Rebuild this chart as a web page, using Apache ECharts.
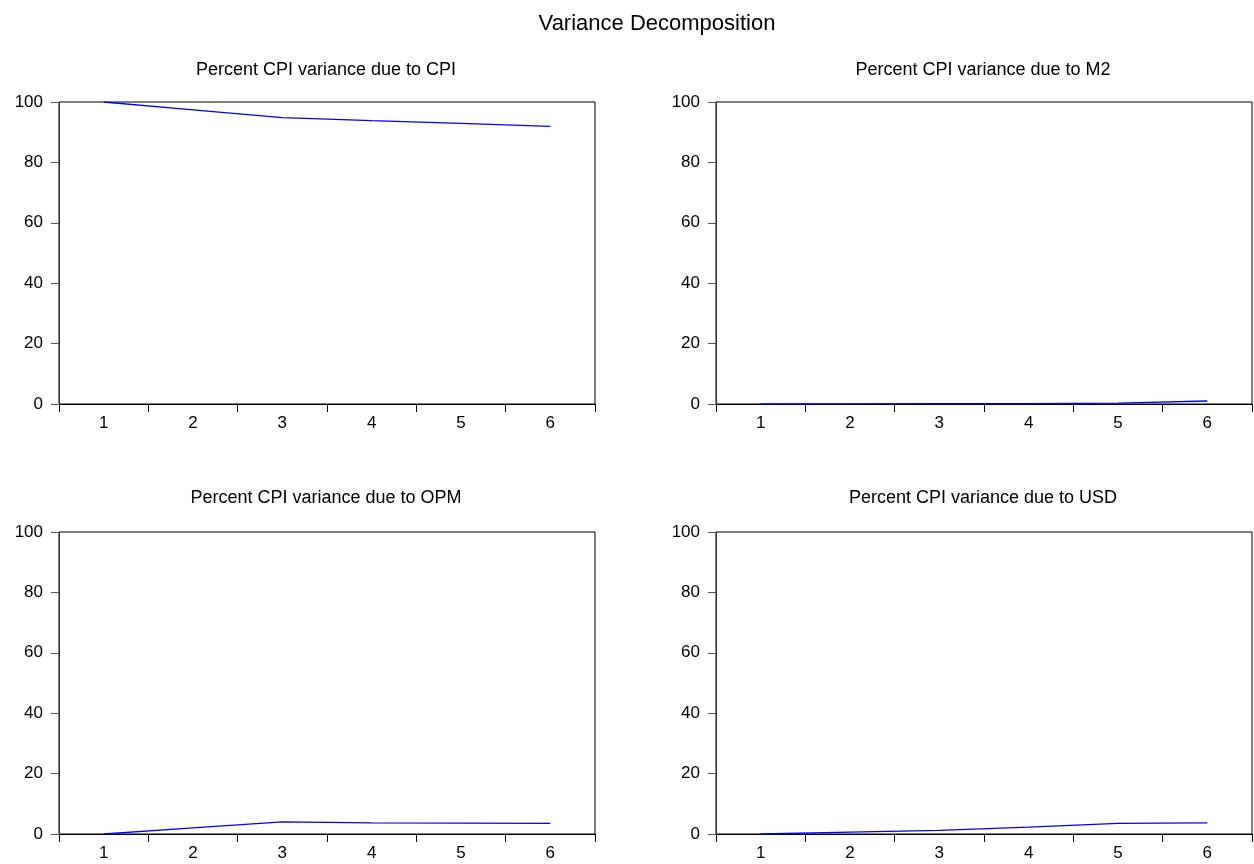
<!DOCTYPE html>
<html>
<head>
<meta charset="utf-8" />
<title>Variance Decomposition</title>
<script src="https://cdn.jsdelivr.net/npm/echarts@6/dist/echarts.min.js"></script>
<style>
  html, body { margin: 0; padding: 0; background: #fff; }
  #main { width: 1254px; height: 864px; }
</style>
</head>
<body>
<div id="main"></div>
<script type="text/javascript">
// periods on the x axis
var periods = ['1', '2', '3', '4', '5', '6'];

// percent of CPI variance explained by each shock
var dueToCPI = [100, 97.4, 94.8, 93.8, 92.9, 91.9];
var dueToM2  = [0, 0.05, 0.1, 0.1, 0.3, 1.0];
var dueToOPM = [0, 2.0, 4.0, 3.7, 3.6, 3.5];
var dueToUSD = [0, 0.6, 1.2, 2.3, 3.5, 3.7];

var panelTitles = [
  'Percent CPI variance due to CPI',
  'Percent CPI variance due to M2',
  'Percent CPI variance due to OPM',
  'Percent CPI variance due to USD'
];
var panelData = [dueToCPI, dueToM2, dueToOPM, dueToUSD];

var FONT = '"Liberation Sans", Arial, sans-serif';

// plot boxes (left, top) in pixels, plus where each panel title sits
var boxes = [
  { left: 59,  top: 102, titleTop: 56 },
  { left: 716, top: 102, titleTop: 56 },
  { left: 59,  top: 532, titleTop: 484 },
  { left: 716, top: 532, titleTop: 484 }
];
var boxW = 536, boxH = 302;

var grids = [], xAxes = [], yAxes = [], series = [], titles = [];

titles.push({
  text: 'Variance Decomposition',
  left: 652,
  textAlign: 'center',
  top: 8,
  textStyle: { fontFamily: FONT, fontSize: 22, fontWeight: 'normal', color: '#000' }
});

for (var i = 0; i < 4; i++) {
  var b = boxes[i];
  grids.push({
    left: b.left, top: b.top, width: boxW, height: boxH,
    show: true, borderColor: '#000', borderWidth: 1, backgroundColor: '#fff'
  });
  titles.push({
    text: panelTitles[i],
    left: b.left + boxW / 2 - 6,
    textAlign: 'center',
    top: b.titleTop,
    textStyle: { fontFamily: FONT, fontSize: 18, fontWeight: 'normal', color: '#000' }
  });
  xAxes.push({
    type: 'category',
    gridIndex: i,
    data: periods,
    boundaryGap: true,
    axisLine: { lineStyle: { color: '#000', width: 1 } },
    axisTick: { show: true, inside: false, length: 8, lineStyle: { color: '#000' } },
    axisLabel: { margin: 11, fontFamily: FONT, fontSize: 17, color: '#000' },
    splitLine: { show: false }
  });
  yAxes.push({
    type: 'value',
    gridIndex: i,
    min: 0, max: 100, interval: 20,
    axisLine: { show: true, lineStyle: { color: '#333', width: 1 } },
    axisTick: { show: true, inside: false, length: 8, lineStyle: { color: '#555' } },
    axisLabel: { margin: 16, fontFamily: FONT, fontSize: 17, color: '#000' },
    splitLine: { show: false }
  });
  series.push({
    type: 'line',
    xAxisIndex: i,
    yAxisIndex: i,
    data: panelData[i],
    showSymbol: false,
    symbol: 'none',
    lineStyle: { color: '#0000ff', width: 1.3 },
    animation: false
  });
}

var chart = echarts.init(document.getElementById('main'));
chart.setOption({
  backgroundColor: '#fff',
  animation: false,
  title: titles,
  grid: grids,
  xAxis: xAxes,
  yAxis: yAxes,
  series: series
});
</script>
</body>
</html>
